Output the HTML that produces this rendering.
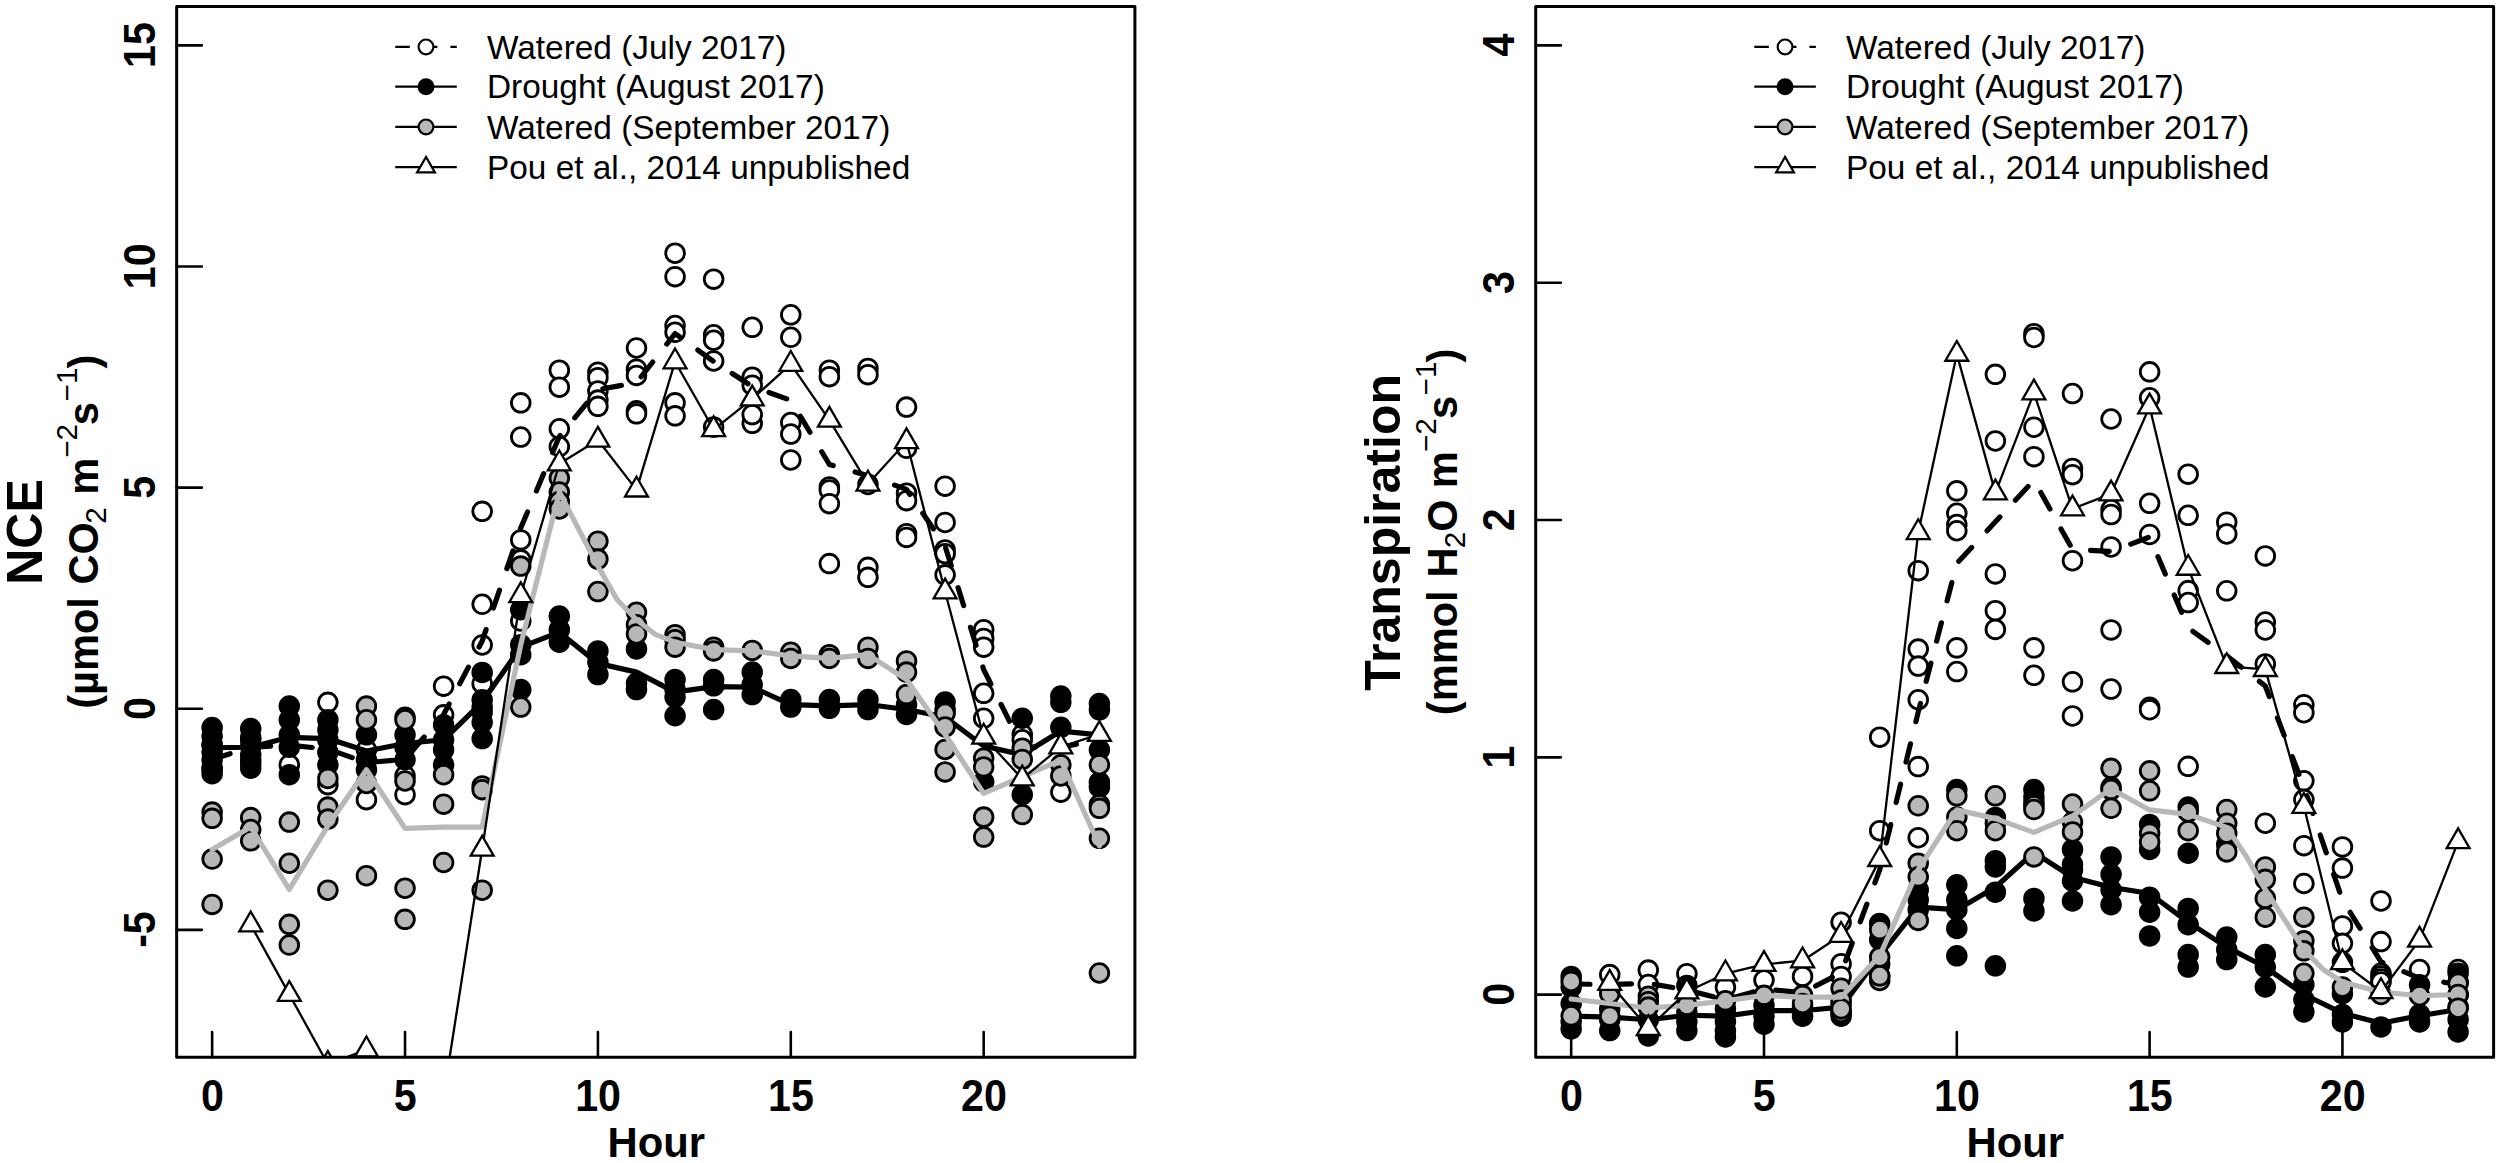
<!DOCTYPE html>
<html lang="en"><head><meta charset="utf-8"><title>NCE and Transpiration by Hour</title>
<style>html,body{margin:0;padding:0;background:#fff}body{width:2500px;height:1163px;overflow:hidden}svg{display:block}text{font-family:"Liberation Sans", sans-serif;fill:#000}</style></head>
<body>
<svg width="2500" height="1163" viewBox="0 0 2500 1163">
<rect width="2500" height="1163" fill="#fff"/>
<clipPath id="clipL"><rect x="176.65" y="6.5" width="958.25" height="1050.7"/></clipPath>
<g clip-path="url(#clipL)">
<g fill="#fff" stroke="#000" stroke-width="2.8"><circle cx="212.14" cy="744.76" r="9.35"/><circle cx="212.14" cy="769.71" r="9.35"/><circle cx="250.72" cy="739.78" r="9.35"/><circle cx="250.72" cy="759.73" r="9.35"/><circle cx="289.29" cy="764.72" r="9.35"/><circle cx="327.87" cy="702.36" r="9.35"/><circle cx="327.87" cy="784.67" r="9.35"/><circle cx="366.45" cy="749.75" r="9.35"/><circle cx="366.45" cy="799.64" r="9.35"/><circle cx="405.03" cy="775.94" r="9.35"/><circle cx="405.03" cy="794.65" r="9.35"/><circle cx="443.6" cy="686.15" r="9.35"/><circle cx="443.6" cy="714.83" r="9.35"/><circle cx="482.18" cy="511.37" r="9.35"/><circle cx="482.18" cy="644.99" r="9.35"/><circle cx="482.18" cy="683.65" r="9.35"/><circle cx="482.18" cy="604.27" r="9.35"/><circle cx="520.76" cy="402.86" r="9.35"/><circle cx="520.76" cy="437.03" r="9.35"/><circle cx="520.76" cy="539.91" r="9.35"/><circle cx="520.76" cy="559.87" r="9.35"/><circle cx="520.76" cy="620.98" r="9.35"/><circle cx="559.33" cy="370.18" r="9.35"/><circle cx="559.33" cy="387.15" r="9.35"/><circle cx="559.33" cy="428.8" r="9.35"/><circle cx="559.33" cy="446.51" r="9.35"/><circle cx="597.91" cy="372.18" r="9.35"/><circle cx="597.91" cy="377.67" r="9.35"/><circle cx="597.91" cy="390.89" r="9.35"/><circle cx="597.91" cy="400.12" r="9.35"/><circle cx="597.91" cy="406.35" r="9.35"/><circle cx="636.49" cy="347.98" r="9.35"/><circle cx="636.49" cy="369.19" r="9.35"/><circle cx="636.49" cy="375.42" r="9.35"/><circle cx="636.49" cy="410.84" r="9.35"/><circle cx="636.49" cy="413.84" r="9.35"/><circle cx="675.06" cy="253.2" r="9.35"/><circle cx="675.06" cy="276.65" r="9.35"/><circle cx="675.06" cy="325.54" r="9.35"/><circle cx="675.06" cy="332.27" r="9.35"/><circle cx="675.06" cy="402.86" r="9.35"/><circle cx="675.06" cy="415.83" r="9.35"/><circle cx="713.64" cy="279.14" r="9.35"/><circle cx="713.64" cy="334.76" r="9.35"/><circle cx="713.64" cy="340.25" r="9.35"/><circle cx="713.64" cy="360.96" r="9.35"/><circle cx="713.64" cy="427.06" r="9.35"/><circle cx="752.22" cy="327.28" r="9.35"/><circle cx="752.22" cy="377.17" r="9.35"/><circle cx="752.22" cy="385.15" r="9.35"/><circle cx="752.22" cy="423.32" r="9.35"/><circle cx="752.22" cy="414.58" r="9.35"/><circle cx="790.79" cy="314.81" r="9.35"/><circle cx="790.79" cy="337.26" r="9.35"/><circle cx="790.79" cy="422.57" r="9.35"/><circle cx="790.79" cy="434.04" r="9.35"/><circle cx="790.79" cy="459.98" r="9.35"/><circle cx="829.37" cy="370.18" r="9.35"/><circle cx="829.37" cy="376.67" r="9.35"/><circle cx="829.37" cy="486.92" r="9.35"/><circle cx="829.37" cy="489.92" r="9.35"/><circle cx="829.37" cy="503.63" r="9.35"/><circle cx="829.37" cy="563.61" r="9.35"/><circle cx="867.95" cy="368.44" r="9.35"/><circle cx="867.95" cy="374.67" r="9.35"/><circle cx="867.95" cy="484.43" r="9.35"/><circle cx="867.95" cy="567.35" r="9.35"/><circle cx="867.95" cy="577.33" r="9.35"/><circle cx="906.52" cy="407.1" r="9.35"/><circle cx="906.52" cy="448.26" r="9.35"/><circle cx="906.52" cy="493.16" r="9.35"/><circle cx="906.52" cy="500.64" r="9.35"/><circle cx="906.52" cy="533.67" r="9.35"/><circle cx="906.52" cy="537.42" r="9.35"/><circle cx="945.1" cy="486.17" r="9.35"/><circle cx="945.1" cy="522.45" r="9.35"/><circle cx="945.1" cy="549.89" r="9.35"/><circle cx="945.1" cy="553.63" r="9.35"/><circle cx="945.1" cy="574.83" r="9.35"/><circle cx="983.68" cy="629.71" r="9.35"/><circle cx="983.68" cy="638.44" r="9.35"/><circle cx="983.68" cy="647.17" r="9.35"/><circle cx="983.68" cy="693.32" r="9.35"/><circle cx="983.68" cy="718.26" r="9.35"/><circle cx="1022.26" cy="734.47" r="9.35"/><circle cx="1022.26" cy="739.78" r="9.35"/><circle cx="1060.83" cy="792.16" r="9.35"/></g>
<polyline points="212.14,759.23 250.72,747.26 289.29,745.26 327.87,749 366.45,762.72 405.03,759.23 443.6,714.58 482.18,640.93 520.76,527.94 559.33,436.54 597.91,389.64 636.49,382.66 675.06,333.52 713.64,361.45 752.22,386.4 790.79,400.37 829.37,464.47 867.95,475.7 906.52,489.42 945.1,546.15 983.68,669.62 1022.26,746.94 1060.83,747.26 1099.41,739.78" fill="none" stroke="#000" stroke-width="5.2" stroke-linejoin="round" stroke-linecap="round" stroke-dasharray="18.8 22.8"/>
<g fill="#000" stroke="#000" stroke-width="2.8"><circle cx="212.14" cy="727.55" r="9.35"/><circle cx="212.14" cy="736.03" r="9.35"/><circle cx="212.14" cy="744.76" r="9.35"/><circle cx="212.14" cy="752.25" r="9.35"/><circle cx="212.14" cy="759.73" r="9.35"/><circle cx="212.14" cy="767.21" r="9.35"/><circle cx="212.14" cy="773.7" r="9.35"/><circle cx="250.72" cy="728.55" r="9.35"/><circle cx="250.72" cy="737.28" r="9.35"/><circle cx="250.72" cy="746.01" r="9.35"/><circle cx="250.72" cy="754.74" r="9.35"/><circle cx="250.72" cy="763.47" r="9.35"/><circle cx="250.72" cy="768.21" r="9.35"/><circle cx="289.29" cy="706.1" r="9.35"/><circle cx="289.29" cy="719.82" r="9.35"/><circle cx="289.29" cy="734.79" r="9.35"/><circle cx="289.29" cy="747.26" r="9.35"/><circle cx="289.29" cy="774.7" r="9.35"/><circle cx="327.87" cy="719.82" r="9.35"/><circle cx="327.87" cy="729.8" r="9.35"/><circle cx="327.87" cy="739.78" r="9.35"/><circle cx="327.87" cy="752.25" r="9.35"/><circle cx="327.87" cy="764.72" r="9.35"/><circle cx="366.45" cy="734.79" r="9.35"/><circle cx="366.45" cy="759.73" r="9.35"/><circle cx="366.45" cy="769.71" r="9.35"/><circle cx="405.03" cy="717.33" r="9.35"/><circle cx="405.03" cy="734.79" r="9.35"/><circle cx="405.03" cy="747.26" r="9.35"/><circle cx="405.03" cy="759.73" r="9.35"/><circle cx="443.6" cy="724.81" r="9.35"/><circle cx="443.6" cy="739.78" r="9.35"/><circle cx="443.6" cy="749.75" r="9.35"/><circle cx="443.6" cy="764.72" r="9.35"/><circle cx="482.18" cy="672.43" r="9.35"/><circle cx="482.18" cy="699.87" r="9.35"/><circle cx="482.18" cy="712.34" r="9.35"/><circle cx="482.18" cy="722.31" r="9.35"/><circle cx="482.18" cy="738.53" r="9.35"/><circle cx="482.18" cy="707.03" r="9.35"/><circle cx="520.76" cy="609.75" r="9.35"/><circle cx="520.76" cy="644.67" r="9.35"/><circle cx="520.76" cy="654.65" r="9.35"/><circle cx="520.76" cy="689.57" r="9.35"/><circle cx="559.33" cy="615.99" r="9.35"/><circle cx="559.33" cy="629.71" r="9.35"/><circle cx="559.33" cy="642.18" r="9.35"/><circle cx="597.91" cy="650.91" r="9.35"/><circle cx="597.91" cy="662.14" r="9.35"/><circle cx="597.91" cy="674.61" r="9.35"/><circle cx="636.49" cy="648.91" r="9.35"/><circle cx="636.49" cy="683.34" r="9.35"/><circle cx="636.49" cy="689.57" r="9.35"/><circle cx="675.06" cy="679.6" r="9.35"/><circle cx="675.06" cy="689.57" r="9.35"/><circle cx="675.06" cy="697.06" r="9.35"/><circle cx="675.06" cy="715.76" r="9.35"/><circle cx="713.64" cy="679.6" r="9.35"/><circle cx="713.64" cy="685.83" r="9.35"/><circle cx="713.64" cy="709.53" r="9.35"/><circle cx="752.22" cy="672.11" r="9.35"/><circle cx="752.22" cy="684.58" r="9.35"/><circle cx="752.22" cy="694.56" r="9.35"/><circle cx="790.79" cy="699.55" r="9.35"/><circle cx="790.79" cy="707.03" r="9.35"/><circle cx="829.37" cy="699.55" r="9.35"/><circle cx="829.37" cy="708.28" r="9.35"/><circle cx="867.95" cy="699.55" r="9.35"/><circle cx="867.95" cy="709.53" r="9.35"/><circle cx="906.52" cy="704.54" r="9.35"/><circle cx="906.52" cy="714.52" r="9.35"/><circle cx="945.1" cy="702.05" r="9.35"/><circle cx="945.1" cy="709.53" r="9.35"/><circle cx="983.68" cy="781.87" r="9.35"/><circle cx="1022.26" cy="718.26" r="9.35"/><circle cx="1022.26" cy="794.65" r="9.35"/><circle cx="1060.83" cy="696.12" r="9.35"/><circle cx="1060.83" cy="702.36" r="9.35"/><circle cx="1060.83" cy="727.3" r="9.35"/><circle cx="1099.41" cy="703.61" r="9.35"/><circle cx="1099.41" cy="709.84" r="9.35"/><circle cx="1099.41" cy="749.75" r="9.35"/><circle cx="1099.41" cy="782.18" r="9.35"/><circle cx="1099.41" cy="787.17" r="9.35"/></g>
<polyline points="212.14,747.76 250.72,747.26 289.29,737.28 327.87,738.53 366.45,751 405.03,743.52 443.6,739.78 482.18,702.05 520.76,647.17 559.33,632.2 597.91,663.38 636.49,672.11 675.06,692.07 713.64,686.58 752.22,687.08 790.79,704.54 829.37,705.79 867.95,704.54 906.52,709.53 945.1,717.01 983.68,746.01 1022.26,754.74 1060.83,731.05 1099.41,734.79" fill="none" stroke="#000" stroke-width="5.2" stroke-linejoin="round" stroke-linecap="round"/>
<g fill="#b8b8b8" stroke="#000" stroke-width="2.8"><circle cx="212.14" cy="812.11" r="9.35"/><circle cx="212.14" cy="818.35" r="9.35"/><circle cx="212.14" cy="859.01" r="9.35"/><circle cx="212.14" cy="904.41" r="9.35"/><circle cx="250.72" cy="817.6" r="9.35"/><circle cx="250.72" cy="829.57" r="9.35"/><circle cx="250.72" cy="840.8" r="9.35"/><circle cx="289.29" cy="822.09" r="9.35"/><circle cx="289.29" cy="863.25" r="9.35"/><circle cx="289.29" cy="924.36" r="9.35"/><circle cx="289.29" cy="945.01" r="9.35"/><circle cx="327.87" cy="778.44" r="9.35"/><circle cx="327.87" cy="807.12" r="9.35"/><circle cx="327.87" cy="819.1" r="9.35"/><circle cx="327.87" cy="890.19" r="9.35"/><circle cx="366.45" cy="706.1" r="9.35"/><circle cx="366.45" cy="719.82" r="9.35"/><circle cx="366.45" cy="783.43" r="9.35"/><circle cx="366.45" cy="875.72" r="9.35"/><circle cx="405.03" cy="719.82" r="9.35"/><circle cx="405.03" cy="780.93" r="9.35"/><circle cx="405.03" cy="888.19" r="9.35"/><circle cx="405.03" cy="919.37" r="9.35"/><circle cx="443.6" cy="774.7" r="9.35"/><circle cx="443.6" cy="804.13" r="9.35"/><circle cx="443.6" cy="862.5" r="9.35"/><circle cx="482.18" cy="785.92" r="9.35"/><circle cx="482.18" cy="789.66" r="9.35"/><circle cx="482.18" cy="890.19" r="9.35"/><circle cx="520.76" cy="566.1" r="9.35"/><circle cx="520.76" cy="707.03" r="9.35"/><circle cx="559.33" cy="478" r="9.35"/><circle cx="559.33" cy="492" r="9.35"/><circle cx="559.33" cy="501.5" r="9.35"/><circle cx="559.33" cy="509" r="9.35"/><circle cx="597.91" cy="541.16" r="9.35"/><circle cx="597.91" cy="559.12" r="9.35"/><circle cx="597.91" cy="591.54" r="9.35"/><circle cx="636.49" cy="612.25" r="9.35"/><circle cx="636.49" cy="624.72" r="9.35"/><circle cx="636.49" cy="633.95" r="9.35"/><circle cx="675.06" cy="634.7" r="9.35"/><circle cx="675.06" cy="639.69" r="9.35"/><circle cx="675.06" cy="647.17" r="9.35"/><circle cx="713.64" cy="647.17" r="9.35"/><circle cx="713.64" cy="650.91" r="9.35"/><circle cx="752.22" cy="650.41" r="9.35"/><circle cx="790.79" cy="652.16" r="9.35"/><circle cx="790.79" cy="658.39" r="9.35"/><circle cx="829.37" cy="654.65" r="9.35"/><circle cx="829.37" cy="658.39" r="9.35"/><circle cx="867.95" cy="647.17" r="9.35"/><circle cx="867.95" cy="658.39" r="9.35"/><circle cx="906.52" cy="660.89" r="9.35"/><circle cx="906.52" cy="672.11" r="9.35"/><circle cx="906.52" cy="694.56" r="9.35"/><circle cx="945.1" cy="713.27" r="9.35"/><circle cx="945.1" cy="726.99" r="9.35"/><circle cx="945.1" cy="749.44" r="9.35"/><circle cx="945.1" cy="771.89" r="9.35"/><circle cx="983.68" cy="758.17" r="9.35"/><circle cx="983.68" cy="766.9" r="9.35"/><circle cx="983.68" cy="817.1" r="9.35"/><circle cx="983.68" cy="837.06" r="9.35"/><circle cx="1022.26" cy="748.19" r="9.35"/><circle cx="1022.26" cy="759.42" r="9.35"/><circle cx="1022.26" cy="814.61" r="9.35"/><circle cx="1060.83" cy="764.72" r="9.35"/><circle cx="1060.83" cy="775.94" r="9.35"/><circle cx="1099.41" cy="973" r="9.35"/><circle cx="1099.41" cy="764.72" r="9.35"/><circle cx="1099.41" cy="804.63" r="9.35"/><circle cx="1099.41" cy="808.37" r="9.35"/><circle cx="1099.41" cy="838.3" r="9.35"/></g>
<polyline points="212.14,849.53 250.72,827.08 289.29,889.44 327.87,825.83 366.45,769.71 405.03,828.33 443.6,827.08 482.18,827.08 520.76,644.67 559.33,492.02 597.91,566.1 617.2,599.78 636.49,619.73 655.78,634.7 675.06,642.18 713.64,649.66 752.22,650.91 790.79,655.9 829.37,658.39 867.95,654.65 906.52,679.6 945.1,734.47 983.68,793.4 1022.26,776.69 1060.83,760.23 1099.41,845.79" fill="none" stroke="#b8b8b8" stroke-width="5.2" stroke-linejoin="round" stroke-linecap="round"/>
<polyline points="250.72,924.76 289.29,994.34 327.87,1064.25 366.45,1049.72 405.03,1125 443.6,1096 482.18,849.03 520.76,595.54 559.33,463.72 597.91,440.03 636.49,489.92 675.06,361.7 713.64,429.55 752.22,398.87 790.79,364.2 829.37,420.07 867.95,483.93 906.52,441.52 945.1,591.79 983.68,736.97 1022.26,778.87 1060.83,746.76 1099.41,734.29" fill="none" stroke="#000" stroke-width="2.3" stroke-linejoin="round" stroke-linecap="round"/>
<g fill="#fff" stroke="#000" stroke-width="2.3" stroke-linejoin="miter"><path d="M250.72 911.56L262.15 931.36L239.29 931.36Z"/><path d="M289.29 981.14L300.73 1000.94L277.86 1000.94Z"/><path d="M327.87 1051.05L339.3 1070.85L316.44 1070.85Z"/><path d="M366.45 1036.52L377.88 1056.32L355.02 1056.32Z"/><path d="M405.03 1111.8L416.46 1131.6L393.59 1131.6Z"/><path d="M443.6 1082.8L455.03 1102.6L432.17 1102.6Z"/><path d="M482.18 835.83L493.61 855.63L470.75 855.63Z"/><path d="M520.76 582.34L532.19 602.14L509.32 602.14Z"/><path d="M559.33 450.52L570.76 470.32L547.9 470.32Z"/><path d="M597.91 426.83L609.34 446.63L586.48 446.63Z"/><path d="M636.49 476.72L647.92 496.52L625.06 496.52Z"/><path d="M675.06 348.5L686.49 368.3L663.63 368.3Z"/><path d="M713.64 416.35L725.07 436.15L702.21 436.15Z"/><path d="M752.22 385.67L763.65 405.47L740.79 405.47Z"/><path d="M790.79 351L802.23 370.8L779.36 370.8Z"/><path d="M829.37 406.87L840.8 426.67L817.94 426.67Z"/><path d="M867.95 470.73L879.38 490.53L856.52 490.53Z"/><path d="M906.52 428.32L917.96 448.12L895.09 448.12Z"/><path d="M945.1 578.59L956.53 598.39L933.67 598.39Z"/><path d="M983.68 723.77L995.11 743.57L972.25 743.57Z"/><path d="M1022.26 765.67L1033.69 785.47L1010.82 785.47Z"/><path d="M1060.83 733.56L1072.26 753.36L1049.4 753.36Z"/><path d="M1099.41 721.09L1110.84 740.89L1087.98 740.89Z"/></g>
</g>
<g stroke="#000" fill="none" stroke-linecap="round">
<rect x="176.65" y="6.5" width="958.25" height="1050.7" stroke-width="3" stroke-linejoin="round"/>
<path d="M212.14 1057.2v-25.2M405.03 1057.2v-25.2M597.91 1057.2v-25.2M790.79 1057.2v-25.2M983.68 1057.2v-25.2M176.65 45.41h25.2M176.65 266.52h25.2M176.65 487.63h25.2M176.65 708.74h25.2M176.65 929.84h25.2" stroke-width="2.6"/>
</g>
<g font-weight="bold" font-size="42.5" text-anchor="middle">
<text transform="translate(212.34 1110.9) scale(.97 1.03)">0</text>
<text transform="translate(405.23 1110.9) scale(.97 1.03)">5</text>
<text transform="translate(598.11 1110.9) scale(.97 1.03)">10</text>
<text transform="translate(790.99 1110.9) scale(.97 1.03)">15</text>
<text transform="translate(983.88 1110.9) scale(.97 1.03)">20</text>
<text transform="translate(154.75 45.11) rotate(-90) scale(.97 1.03)">15</text>
<text transform="translate(154.75 266.22) rotate(-90) scale(.97 1.03)">10</text>
<text transform="translate(154.75 487.33) rotate(-90) scale(.97 1.03)">5</text>
<text transform="translate(154.75 708.44) rotate(-90) scale(.97 1.03)">0</text>
<text transform="translate(154.75 929.54) rotate(-90) scale(.97 1.03)">-5</text>
</g>
<text x="656.38" y="1157.4" font-weight="bold" font-size="41.8" text-anchor="middle">Hour</text>
<text transform="translate(41.8 532.05) rotate(-90)" font-weight="bold" font-size="50" text-anchor="middle">NCE</text>
<text transform="translate(98.35 0) rotate(-90)" font-weight="bold" font-size="41.6"><tspan x="-708.86" y="0">(µmol </tspan><tspan x="-584.56" y="0">CO</tspan><tspan x="-523.78" y="7.7" font-weight="normal" font-size="29.6">2 </tspan><tspan x="-494.7" y="0">m</tspan><tspan x="-457.78" y="-21" font-weight="normal" font-size="29.6">−2</tspan><tspan x="-425.25" y="0">s</tspan><tspan x="-401.38" y="-21" font-weight="normal" font-size="29.6">−1</tspan><tspan x="-368.4" y="0">)</tspan></text>
<g stroke="#000" stroke-width="2.2" fill="none">
<path d="M395.2 46.9h61.6" stroke-dasharray="14.6 13"/>
<path d="M395.2 86.7h61.6"/>
<path d="M395.2 126.9h61.6"/>
<path d="M395.2 167.2h61.6"/>
<circle cx="426" cy="46.9" r="7.4" fill="#fff"/>
<circle cx="426" cy="86.7" r="7.4" fill="#000"/>
<circle cx="426" cy="126.9" r="7.4" fill="#b8b8b8"/>
<path d="M426 156.9L434.92 172.35L417.08 172.35Z" fill="#fff" stroke-linejoin="miter"/>
</g>
<g font-size="33.4">
<text x="486.95" y="58.6">Watered (July 2017)</text>
<text x="486.95" y="98.4">Drought (August 2017)</text>
<text x="486.95" y="138.6">Watered (September 2017)</text>
<text x="486.95" y="178.9">Pou et al., 2014 unpublished</text>
</g>
<clipPath id="clipR"><rect x="1535.7" y="6.5" width="957.9" height="1050.8"/></clipPath>
<g clip-path="url(#clipR)">
<g fill="#fff" stroke="#000" stroke-width="2.8"><circle cx="1609.74" cy="974.6" r="9.35"/><circle cx="1648.3" cy="970.09" r="9.35"/><circle cx="1648.3" cy="984.54" r="9.35"/><circle cx="1686.87" cy="973.7" r="9.35"/><circle cx="1725.43" cy="987.25" r="9.35"/><circle cx="1763.99" cy="980.02" r="9.35"/><circle cx="1802.55" cy="976.41" r="9.35"/><circle cx="1841.12" cy="922.23" r="9.35"/><circle cx="1841.12" cy="963.77" r="9.35"/><circle cx="1841.12" cy="976.41" r="9.35"/><circle cx="1879.68" cy="737.17" r="9.35"/><circle cx="1879.68" cy="830.71" r="9.35"/><circle cx="1918.24" cy="570.66" r="9.35"/><circle cx="1918.24" cy="649.12" r="9.35"/><circle cx="1918.24" cy="666.08" r="9.35"/><circle cx="1918.24" cy="699.75" r="9.35"/><circle cx="1918.24" cy="766.6" r="9.35"/><circle cx="1918.24" cy="837.69" r="9.35"/><circle cx="1956.81" cy="490.84" r="9.35"/><circle cx="1956.81" cy="513.29" r="9.35"/><circle cx="1956.81" cy="524.52" r="9.35"/><circle cx="1956.81" cy="530.75" r="9.35"/><circle cx="1956.81" cy="647.87" r="9.35"/><circle cx="1956.81" cy="671.57" r="9.35"/><circle cx="1995.37" cy="374.36" r="9.35"/><circle cx="1995.37" cy="440.96" r="9.35"/><circle cx="1995.37" cy="573.91" r="9.35"/><circle cx="1995.37" cy="610.7" r="9.35"/><circle cx="1995.37" cy="629.41" r="9.35"/><circle cx="2033.93" cy="333.7" r="9.35"/><circle cx="2033.93" cy="337.44" r="9.35"/><circle cx="2033.93" cy="427.24" r="9.35"/><circle cx="2033.93" cy="456.67" r="9.35"/><circle cx="2033.93" cy="647.87" r="9.35"/><circle cx="2033.93" cy="675.31" r="9.35"/><circle cx="2072.49" cy="393.56" r="9.35"/><circle cx="2072.49" cy="468.39" r="9.35"/><circle cx="2072.49" cy="474.63" r="9.35"/><circle cx="2072.49" cy="560.69" r="9.35"/><circle cx="2072.49" cy="681.79" r="9.35"/><circle cx="2072.49" cy="715.97" r="9.35"/><circle cx="2111.06" cy="419" r="9.35"/><circle cx="2111.06" cy="509.55" r="9.35"/><circle cx="2111.06" cy="514.54" r="9.35"/><circle cx="2111.06" cy="546.97" r="9.35"/><circle cx="2111.06" cy="629.91" r="9.35"/><circle cx="2111.06" cy="689.03" r="9.35"/><circle cx="2149.62" cy="371.86" r="9.35"/><circle cx="2149.62" cy="397.8" r="9.35"/><circle cx="2149.62" cy="503.32" r="9.35"/><circle cx="2149.62" cy="534.49" r="9.35"/><circle cx="2149.62" cy="707.24" r="9.35"/><circle cx="2149.62" cy="709.73" r="9.35"/><circle cx="2188.18" cy="474.13" r="9.35"/><circle cx="2188.18" cy="515.29" r="9.35"/><circle cx="2188.18" cy="590.62" r="9.35"/><circle cx="2188.18" cy="602.54" r="9.35"/><circle cx="2188.18" cy="766.35" r="9.35"/><circle cx="2226.75" cy="522.22" r="9.35"/><circle cx="2226.75" cy="533.95" r="9.35"/><circle cx="2226.75" cy="590.82" r="9.35"/><circle cx="2265.31" cy="555.9" r="9.35"/><circle cx="2265.31" cy="622" r="9.35"/><circle cx="2265.31" cy="629.98" r="9.35"/><circle cx="2265.31" cy="663.91" r="9.35"/><circle cx="2265.31" cy="823.23" r="9.35"/><circle cx="2303.87" cy="704.74" r="9.35"/><circle cx="2303.87" cy="712.72" r="9.35"/><circle cx="2303.87" cy="780.82" r="9.35"/><circle cx="2303.87" cy="799.53" r="9.35"/><circle cx="2303.87" cy="845.67" r="9.35"/><circle cx="2303.87" cy="883.49" r="9.35"/><circle cx="2342.43" cy="846.92" r="9.35"/><circle cx="2342.43" cy="868.12" r="9.35"/><circle cx="2342.43" cy="925.9" r="9.35"/><circle cx="2342.43" cy="943.36" r="9.35"/><circle cx="2381" cy="900.96" r="9.35"/><circle cx="2381" cy="941.61" r="9.35"/><circle cx="2381" cy="973.29" r="9.35"/><circle cx="2381" cy="976.04" r="9.35"/><circle cx="2381" cy="979.03" r="9.35"/><circle cx="2381" cy="982.02" r="9.35"/><circle cx="2419.56" cy="969.55" r="9.35"/><circle cx="2458.12" cy="969.55" r="9.35"/></g>
<polyline points="1571.18,984 1609.74,984.5 1648.3,983.3 1686.87,990 1725.43,999.9 1763.99,989 1802.55,992.7 1841.12,972.8 1879.68,869.9 1918.24,712 1956.81,563.4 1995.37,521.8 2033.93,480.1 2072.49,549.5 2111.06,551.5 2149.62,537 2188.18,628 2226.75,655.7 2265.31,686 2303.87,787 2342.43,900 2381,961.8 2419.56,978.3 2458.12,984.5" fill="none" stroke="#000" stroke-width="5.2" stroke-linejoin="round" stroke-linecap="round" stroke-dasharray="18.8 22.8"/>
<g fill="#000" stroke="#000" stroke-width="2.8"><circle cx="1571.18" cy="976.41" r="9.35"/><circle cx="1571.18" cy="987.25" r="9.35"/><circle cx="1571.18" cy="1003.5" r="9.35"/><circle cx="1571.18" cy="1021.56" r="9.35"/><circle cx="1571.18" cy="1028.78" r="9.35"/><circle cx="1609.74" cy="1008.92" r="9.35"/><circle cx="1609.74" cy="1019.75" r="9.35"/><circle cx="1609.74" cy="1030.59" r="9.35"/><circle cx="1648.3" cy="1019.75" r="9.35"/><circle cx="1648.3" cy="1036" r="9.35"/><circle cx="1686.87" cy="985.44" r="9.35"/><circle cx="1686.87" cy="1012.53" r="9.35"/><circle cx="1686.87" cy="1021.56" r="9.35"/><circle cx="1686.87" cy="1030.59" r="9.35"/><circle cx="1725.43" cy="1008.92" r="9.35"/><circle cx="1725.43" cy="1021.56" r="9.35"/><circle cx="1725.43" cy="1030.59" r="9.35"/><circle cx="1725.43" cy="1036.91" r="9.35"/><circle cx="1763.99" cy="1005.3" r="9.35"/><circle cx="1763.99" cy="1016.14" r="9.35"/><circle cx="1763.99" cy="1024.27" r="9.35"/><circle cx="1802.55" cy="1007.11" r="9.35"/><circle cx="1802.55" cy="1016.14" r="9.35"/><circle cx="1841.12" cy="1012.53" r="9.35"/><circle cx="1841.12" cy="1016.14" r="9.35"/><circle cx="1879.68" cy="964.3" r="9.35"/><circle cx="1879.68" cy="976.3" r="9.35"/><circle cx="1879.68" cy="923.4" r="9.35"/><circle cx="1879.68" cy="939.62" r="9.35"/><circle cx="1918.24" cy="889.73" r="9.35"/><circle cx="1918.24" cy="899.71" r="9.35"/><circle cx="1918.24" cy="909.69" r="9.35"/><circle cx="1956.81" cy="789.55" r="9.35"/><circle cx="1956.81" cy="884.74" r="9.35"/><circle cx="1956.81" cy="899.71" r="9.35"/><circle cx="1956.81" cy="909.69" r="9.35"/><circle cx="1956.81" cy="928.39" r="9.35"/><circle cx="1956.81" cy="955.83" r="9.35"/><circle cx="1995.37" cy="860.64" r="9.35"/><circle cx="1995.37" cy="866.88" r="9.35"/><circle cx="1995.37" cy="817.39" r="9.35"/><circle cx="1995.37" cy="892.22" r="9.35"/><circle cx="1995.37" cy="965.81" r="9.35"/><circle cx="2033.93" cy="789.55" r="9.35"/><circle cx="2033.93" cy="797.03" r="9.35"/><circle cx="2033.93" cy="802.43" r="9.35"/><circle cx="2033.93" cy="898.46" r="9.35"/><circle cx="2033.93" cy="910.93" r="9.35"/><circle cx="2072.49" cy="849.42" r="9.35"/><circle cx="2072.49" cy="864.38" r="9.35"/><circle cx="2072.49" cy="869.78" r="9.35"/><circle cx="2072.49" cy="881" r="9.35"/><circle cx="2072.49" cy="900.96" r="9.35"/><circle cx="2111.06" cy="787.06" r="9.35"/><circle cx="2111.06" cy="856.9" r="9.35"/><circle cx="2111.06" cy="874.36" r="9.35"/><circle cx="2111.06" cy="889.73" r="9.35"/><circle cx="2111.06" cy="904.7" r="9.35"/><circle cx="2149.62" cy="824.47" r="9.35"/><circle cx="2149.62" cy="849.42" r="9.35"/><circle cx="2149.62" cy="897.21" r="9.35"/><circle cx="2149.62" cy="912.18" r="9.35"/><circle cx="2149.62" cy="935.88" r="9.35"/><circle cx="2188.18" cy="807.01" r="9.35"/><circle cx="2188.18" cy="853.16" r="9.35"/><circle cx="2188.18" cy="908.44" r="9.35"/><circle cx="2188.18" cy="924.65" r="9.35"/><circle cx="2188.18" cy="954.58" r="9.35"/><circle cx="2188.18" cy="967.06" r="9.35"/><circle cx="2226.75" cy="844.43" r="9.35"/><circle cx="2226.75" cy="937.12" r="9.35"/><circle cx="2226.75" cy="949.6" r="9.35"/><circle cx="2226.75" cy="959.57" r="9.35"/><circle cx="2265.31" cy="954.58" r="9.35"/><circle cx="2265.31" cy="967.06" r="9.35"/><circle cx="2265.31" cy="987.01" r="9.35"/><circle cx="2303.87" cy="984.52" r="9.35"/><circle cx="2303.87" cy="999.48" r="9.35"/><circle cx="2303.87" cy="1011.96" r="9.35"/><circle cx="2342.43" cy="962.32" r="9.35"/><circle cx="2342.43" cy="993.75" r="9.35"/><circle cx="2342.43" cy="1014.45" r="9.35"/><circle cx="2342.43" cy="1021.93" r="9.35"/><circle cx="2381" cy="1026.92" r="9.35"/><circle cx="2419.56" cy="984.77" r="9.35"/><circle cx="2419.56" cy="1014.45" r="9.35"/><circle cx="2419.56" cy="1021.93" r="9.35"/><circle cx="2458.12" cy="973.29" r="9.35"/><circle cx="2458.12" cy="982.02" r="9.35"/><circle cx="2458.12" cy="994.49" r="9.35"/><circle cx="2458.12" cy="1006.97" r="9.35"/><circle cx="2458.12" cy="1019.44" r="9.35"/><circle cx="2458.12" cy="1031.91" r="9.35"/></g>
<polyline points="1571.18,1016.14 1609.74,1017.04 1648.3,1019.75 1686.87,1015.24 1725.43,1016.14 1763.99,1010.72 1802.55,1010.72 1841.12,1007.11 1879.68,955.83 1918.24,907.19 1956.81,909.69 1995.37,887.24 2033.93,852.31 2072.49,877.26 2111.06,887.24 2149.62,893.47 2188.18,922.16 2226.75,947.1 2265.31,967.06 2303.87,994.49 2342.43,1013.2 2381,1023.18 2419.56,1015.7 2458.12,1009.46" fill="none" stroke="#000" stroke-width="5.2" stroke-linejoin="round" stroke-linecap="round"/>
<g fill="#b8b8b8" stroke="#000" stroke-width="2.8"><circle cx="1571.18" cy="981.47" r="9.35"/><circle cx="1571.18" cy="1015.78" r="9.35"/><circle cx="1609.74" cy="993.57" r="9.35"/><circle cx="1609.74" cy="1016.14" r="9.35"/><circle cx="1648.3" cy="996.28" r="9.35"/><circle cx="1648.3" cy="1001.69" r="9.35"/><circle cx="1648.3" cy="1007.11" r="9.35"/><circle cx="1686.87" cy="1005.3" r="9.35"/><circle cx="1725.43" cy="1000.79" r="9.35"/><circle cx="1763.99" cy="995.37" r="9.35"/><circle cx="1802.55" cy="995.37" r="9.35"/><circle cx="1802.55" cy="1003.5" r="9.35"/><circle cx="1841.12" cy="1003.5" r="9.35"/><circle cx="1841.12" cy="1012.5" r="9.35"/><circle cx="1841.12" cy="988.15" r="9.35"/><circle cx="1841.12" cy="999.89" r="9.35"/><circle cx="1841.12" cy="1008.92" r="9.35"/><circle cx="1879.68" cy="980.5" r="9.35"/><circle cx="1879.68" cy="929.64" r="9.35"/><circle cx="1879.68" cy="957.08" r="9.35"/><circle cx="1879.68" cy="975.79" r="9.35"/><circle cx="1918.24" cy="805.76" r="9.35"/><circle cx="1918.24" cy="863.14" r="9.35"/><circle cx="1918.24" cy="876.85" r="9.35"/><circle cx="1918.24" cy="920.41" r="9.35"/><circle cx="1956.81" cy="795.79" r="9.35"/><circle cx="1956.81" cy="816.99" r="9.35"/><circle cx="1956.81" cy="830.71" r="9.35"/><circle cx="1995.37" cy="795.79" r="9.35"/><circle cx="1995.37" cy="823.23" r="9.35"/><circle cx="1995.37" cy="830.71" r="9.35"/><circle cx="2033.93" cy="805.76" r="9.35"/><circle cx="2033.93" cy="809.51" r="9.35"/><circle cx="2033.93" cy="856.9" r="9.35"/><circle cx="2072.49" cy="804.02" r="9.35"/><circle cx="2072.49" cy="821.98" r="9.35"/><circle cx="2072.49" cy="831.96" r="9.35"/><circle cx="2111.06" cy="768.35" r="9.35"/><circle cx="2111.06" cy="789.55" r="9.35"/><circle cx="2111.06" cy="808.26" r="9.35"/><circle cx="2149.62" cy="770.84" r="9.35"/><circle cx="2149.62" cy="790.8" r="9.35"/><circle cx="2149.62" cy="833.2" r="9.35"/><circle cx="2149.62" cy="841.93" r="9.35"/><circle cx="2188.18" cy="812" r="9.35"/><circle cx="2188.18" cy="830.71" r="9.35"/><circle cx="2226.75" cy="809.51" r="9.35"/><circle cx="2226.75" cy="823.23" r="9.35"/><circle cx="2226.75" cy="833.2" r="9.35"/><circle cx="2226.75" cy="851.91" r="9.35"/><circle cx="2265.31" cy="866.88" r="9.35"/><circle cx="2265.31" cy="879.35" r="9.35"/><circle cx="2265.31" cy="898.46" r="9.35"/><circle cx="2265.31" cy="917.17" r="9.35"/><circle cx="2303.87" cy="917.17" r="9.35"/><circle cx="2303.87" cy="940.87" r="9.35"/><circle cx="2303.87" cy="950.84" r="9.35"/><circle cx="2303.87" cy="973.29" r="9.35"/><circle cx="2342.43" cy="987.01" r="9.35"/><circle cx="2381" cy="994.49" r="9.35"/><circle cx="2419.56" cy="995.74" r="9.35"/><circle cx="2458.12" cy="983.27" r="9.35"/><circle cx="2458.12" cy="994.49" r="9.35"/><circle cx="2458.12" cy="1008.21" r="9.35"/></g>
<polyline points="1571.18,998.98 1609.74,1003.5 1648.3,1008.01 1686.87,1005.3 1725.43,1000.79 1763.99,995.37 1802.55,997.18 1841.12,997.18 1879.68,955.83 1918.24,869.78 1956.81,809.91 1995.37,818.64 2033.93,832.36 2072.49,816.15 2111.06,788.71 2149.62,809.91 2188.18,814.4 2226.75,827.37 2246.03,856.06 2265.31,889.73 2303.87,949.6 2323.15,969.55 2342.43,982.02 2381,992 2419.56,995.74 2458.12,994.49" fill="none" stroke="#b8b8b8" stroke-width="5.2" stroke-linejoin="round" stroke-linecap="round"/>
<polyline points="1609.74,983.27 1648.3,1028.42 1686.87,991.76 1725.43,973.7 1763.99,964.31 1802.55,960.7 1841.12,935.24 1879.68,859.39 1918.24,532.5 1956.81,354.15 1995.37,492.84 2033.93,392.81 2072.49,508.8 2111.06,493.84 2149.62,406.78 2188.18,568.17 2226.75,666.4 2265.31,669.39 2303.87,806.26 2342.43,962.57 2381,991.5 2419.56,940.12 2458.12,841.59" fill="none" stroke="#000" stroke-width="2.3" stroke-linejoin="round" stroke-linecap="round"/>
<g fill="#fff" stroke="#000" stroke-width="2.3" stroke-linejoin="miter"><path d="M1609.74 970.07L1621.17 989.87L1598.31 989.87Z"/><path d="M1648.3 1015.22L1659.73 1035.02L1636.87 1035.02Z"/><path d="M1686.87 978.56L1698.3 998.36L1675.43 998.36Z"/><path d="M1725.43 960.5L1736.86 980.3L1714 980.3Z"/><path d="M1763.99 951.11L1775.42 970.91L1752.56 970.91Z"/><path d="M1802.55 947.5L1813.99 967.3L1791.12 967.3Z"/><path d="M1841.12 922.04L1852.55 941.84L1829.69 941.84Z"/><path d="M1879.68 846.19L1891.11 865.99L1868.25 865.99Z"/><path d="M1918.24 519.3L1929.67 539.1L1906.81 539.1Z"/><path d="M1956.81 340.95L1968.24 360.75L1945.37 360.75Z"/><path d="M1995.37 479.64L2006.8 499.44L1983.94 499.44Z"/><path d="M2033.93 379.61L2045.36 399.41L2022.5 399.41Z"/><path d="M2072.49 495.6L2083.93 515.4L2061.06 515.4Z"/><path d="M2111.06 480.64L2122.49 500.44L2099.63 500.44Z"/><path d="M2149.62 393.58L2161.05 413.38L2138.19 413.38Z"/><path d="M2188.18 554.97L2199.61 574.77L2176.75 574.77Z"/><path d="M2226.75 653.2L2238.18 673L2215.31 673Z"/><path d="M2265.31 656.19L2276.74 675.99L2253.88 675.99Z"/><path d="M2303.87 793.06L2315.3 812.86L2292.44 812.86Z"/><path d="M2342.43 949.37L2353.87 969.17L2331 969.17Z"/><path d="M2381 978.3L2392.43 998.1L2369.57 998.1Z"/><path d="M2419.56 926.92L2430.99 946.72L2408.13 946.72Z"/><path d="M2458.12 828.39L2469.55 848.19L2446.69 848.19Z"/></g>
</g>
<g stroke="#000" fill="none" stroke-linecap="round">
<rect x="1535.7" y="6.5" width="957.9" height="1050.8" stroke-width="3" stroke-linejoin="round"/>
<path d="M1571.18 1057.3v-25.2M1763.99 1057.3v-25.2M1956.81 1057.3v-25.2M2149.62 1057.3v-25.2M2342.43 1057.3v-25.2M1535.7 45.42h25.2M1535.7 282.73h25.2M1535.7 520.03h25.2M1535.7 757.34h25.2M1535.7 994.65h25.2" stroke-width="2.6"/>
</g>
<g font-weight="bold" font-size="42.5" text-anchor="middle">
<text transform="translate(1571.38 1110.9) scale(.97 1.03)">0</text>
<text transform="translate(1764.19 1110.9) scale(.97 1.03)">5</text>
<text transform="translate(1957.01 1110.9) scale(.97 1.03)">10</text>
<text transform="translate(2149.82 1110.9) scale(.97 1.03)">15</text>
<text transform="translate(2342.63 1110.9) scale(.97 1.03)">20</text>
<text transform="translate(1513.8 45.12) rotate(-90) scale(.97 1.03)">4</text>
<text transform="translate(1513.8 282.43) rotate(-90) scale(.97 1.03)">3</text>
<text transform="translate(1513.8 519.73) rotate(-90) scale(.97 1.03)">2</text>
<text transform="translate(1513.8 757.04) rotate(-90) scale(.97 1.03)">1</text>
<text transform="translate(1513.8 994.35) rotate(-90) scale(.97 1.03)">0</text>
</g>
<text x="2015.25" y="1157.4" font-weight="bold" font-size="41.8" text-anchor="middle">Hour</text>
<text transform="translate(1400.4 532.4) rotate(-90)" font-weight="bold" font-size="50" text-anchor="middle">Transpiration</text>
<text transform="translate(1457 0) rotate(-90)" font-weight="bold" font-size="41.6"><tspan x="-715.16" y="0">(mmol </tspan><tspan x="-577.5" y="0">H</tspan><tspan x="-548.18" y="7.7" font-weight="normal" font-size="29.6">2</tspan><tspan x="-531.66" y="0">O </tspan><tspan x="-488.3" y="0">m</tspan><tspan x="-452.08" y="-21" font-weight="normal" font-size="29.6">−2</tspan><tspan x="-418.95" y="0">s</tspan><tspan x="-395.38" y="-21" font-weight="normal" font-size="29.6">−1</tspan><tspan x="-362.4" y="0">)</tspan></text>
<g stroke="#000" stroke-width="2.2" fill="none">
<path d="M1754.25 46.9h61.6" stroke-dasharray="14.6 13"/>
<path d="M1754.25 86.7h61.6"/>
<path d="M1754.25 126.9h61.6"/>
<path d="M1754.25 167.2h61.6"/>
<circle cx="1785.05" cy="46.9" r="7.4" fill="#fff"/>
<circle cx="1785.05" cy="86.7" r="7.4" fill="#000"/>
<circle cx="1785.05" cy="126.9" r="7.4" fill="#b8b8b8"/>
<path d="M1785.05 156.9L1793.97 172.35L1776.13 172.35Z" fill="#fff" stroke-linejoin="miter"/>
</g>
<g font-size="33.4">
<text x="1846" y="58.6">Watered (July 2017)</text>
<text x="1846" y="98.4">Drought (August 2017)</text>
<text x="1846" y="138.6">Watered (September 2017)</text>
<text x="1846" y="178.9">Pou et al., 2014 unpublished</text>
</g>
</svg>
</body></html>
